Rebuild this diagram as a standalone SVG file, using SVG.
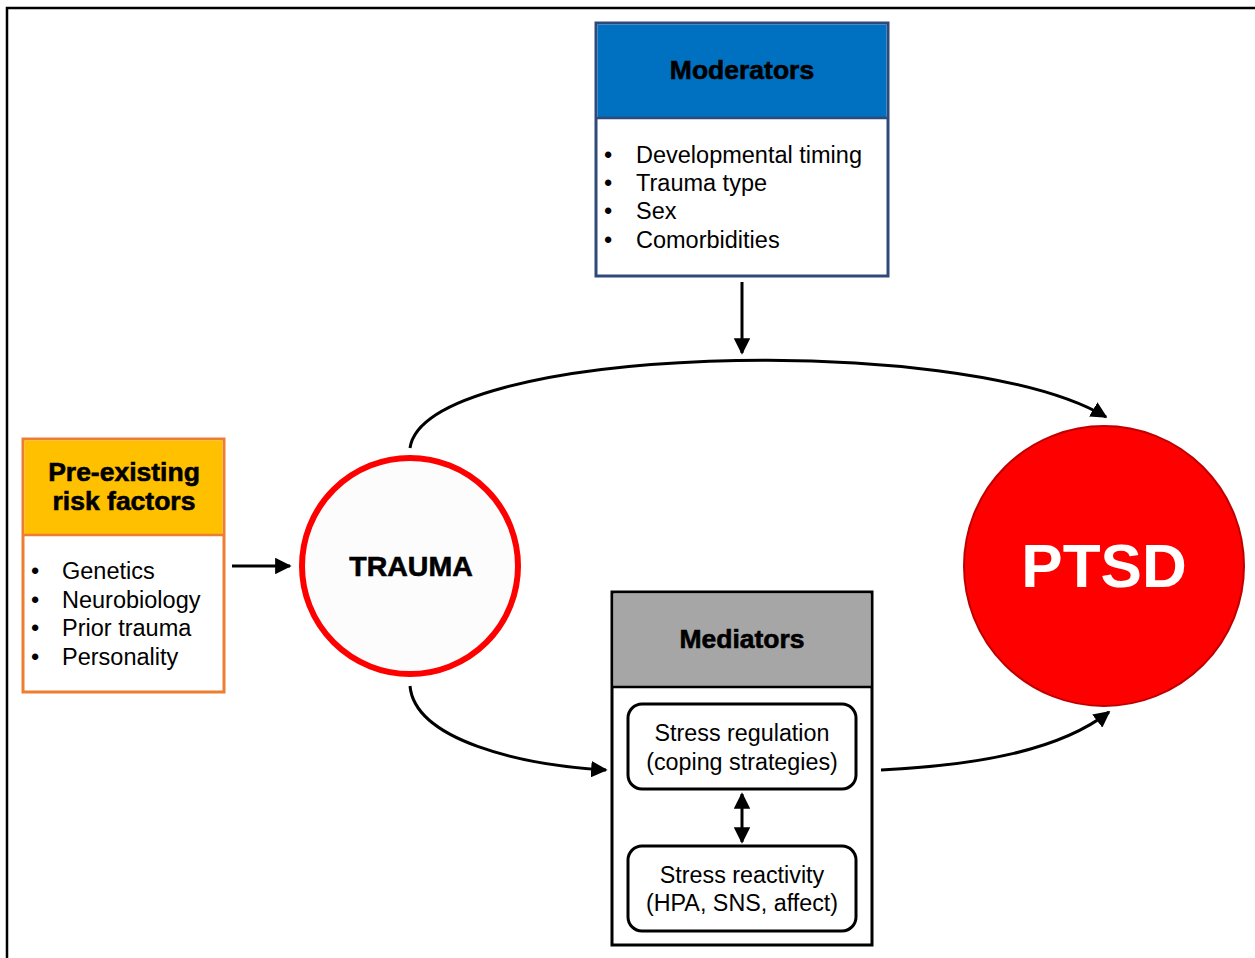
<svg xmlns="http://www.w3.org/2000/svg" width="1255" height="958" viewBox="0 0 1255 958">
<defs>
<marker id="ah" viewBox="0 0 10 10" refX="9" refY="5" markerWidth="5.5" markerHeight="5.5" orient="auto-start-reverse" markerUnits="strokeWidth">
<path d="M0,0 L10,5 L0,10 Z" fill="#000"/>
</marker>
</defs>
<style>
text{font-family:"Liberation Sans",Arial,sans-serif;fill:#000}
.t{font-size:26.5px;font-weight:bold;text-anchor:middle;stroke:#000;stroke-width:0.6}
.b{font-size:23.5px}
.m{font-size:23.3px;text-anchor:middle}
.c{fill:none;stroke:#000;stroke-width:3;marker-end:url(#ah)}
</style>
<rect x="7" y="8" width="1270" height="970" fill="#fff" stroke="#000" stroke-width="2.5"/>

<g id="moderators">
<rect x="596" y="23" width="292" height="253" fill="#fff" stroke="#2F4A7A" stroke-width="3"/>
<rect x="597.5" y="24.5" width="289" height="93" fill="#0070C0"/>
<line x1="596" y1="118" x2="888" y2="118" stroke="#2F4A7A" stroke-width="2.5"/>
<text class="t" x="742" y="79">Moderators</text>
<text class="b" x="604" y="163">•</text><text class="b" x="636" y="163">Developmental timing</text>
<text class="b" x="604" y="191">•</text><text class="b" x="636" y="191">Trauma type</text>
<text class="b" x="604" y="219">•</text><text class="b" x="636" y="219">Sex</text>
<text class="b" x="604" y="248">•</text><text class="b" x="636" y="248">Comorbidities</text>
</g>

<g id="risk">
<rect x="23" y="439" width="201" height="253" fill="#fff" stroke="#ED7D31" stroke-width="3"/>
<rect x="24.5" y="440.5" width="198" height="94" fill="#FFC000"/>
<line x1="23" y1="535" x2="224" y2="535" stroke="#ED7D31" stroke-width="2.5"/>
<text class="t" x="124" y="481">Pre-existing</text>
<text class="t" x="124" y="510">risk factors</text>
<text class="b" x="31" y="579">•</text><text class="b" x="62" y="579">Genetics</text>
<text class="b" x="31" y="608">•</text><text class="b" x="62" y="608">Neurobiology</text>
<text class="b" x="31" y="636">•</text><text class="b" x="62" y="636">Prior trauma</text>
<text class="b" x="31" y="665">•</text><text class="b" x="62" y="665">Personality</text>
</g>

<g id="trauma">
<circle cx="410" cy="566" r="108" fill="#FCFCFC" stroke="#FF0000" stroke-width="6"/>
<text x="411" y="576" style="font-size:28.5px;font-weight:bold;text-anchor:middle;stroke:#000;stroke-width:0.6">TRAUMA</text>
</g>

<g id="ptsd">
<circle cx="1104" cy="566" r="140" fill="#FF0000" stroke="#C00000" stroke-width="2"/>
<text x="1104" y="587" style="font-size:62px;font-weight:bold;text-anchor:middle;fill:#fff">PTSD</text>
</g>

<g id="mediators">
<rect x="612" y="592" width="260" height="353" fill="#fff" stroke="#000" stroke-width="3"/>
<rect x="613.5" y="593.5" width="257" height="93" fill="#A6A6A6"/>
<line x1="612" y1="687" x2="872" y2="687" stroke="#000" stroke-width="2.5"/>
<text class="t" x="742" y="648">Mediators</text>
<g id="regulation">
<rect x="628" y="704" width="228" height="85" rx="14" fill="#fff" stroke="#000" stroke-width="3"/>
<text class="m" x="742" y="741">Stress regulation</text>
<text class="m" x="742" y="770">(coping strategies)</text>
</g>
<g id="reactivity">
<rect x="628" y="846" width="228" height="85" rx="14" fill="#fff" stroke="#000" stroke-width="3"/>
<text class="m" x="742" y="883">Stress reactivity</text>
<text class="m" x="742" y="911">(HPA, SNS, affect)</text>
</g>
</g>

<g id="connectors">
<line class="c" x1="232" y1="566" x2="290" y2="566"/>
<line class="c" x1="742" y1="282" x2="742" y2="353"/>
<path class="c" d="M410,448 C425,345 960,330 1106,417"/>
<path class="c" d="M410,686 C415,740 520,765 606,770"/>
<path class="c" d="M881,770 C980,765 1060,750 1109,712"/>
<line x1="742" y1="794" x2="742" y2="842" stroke="#000" stroke-width="3" marker-start="url(#ah)" marker-end="url(#ah)"/>
</g>
</svg>
